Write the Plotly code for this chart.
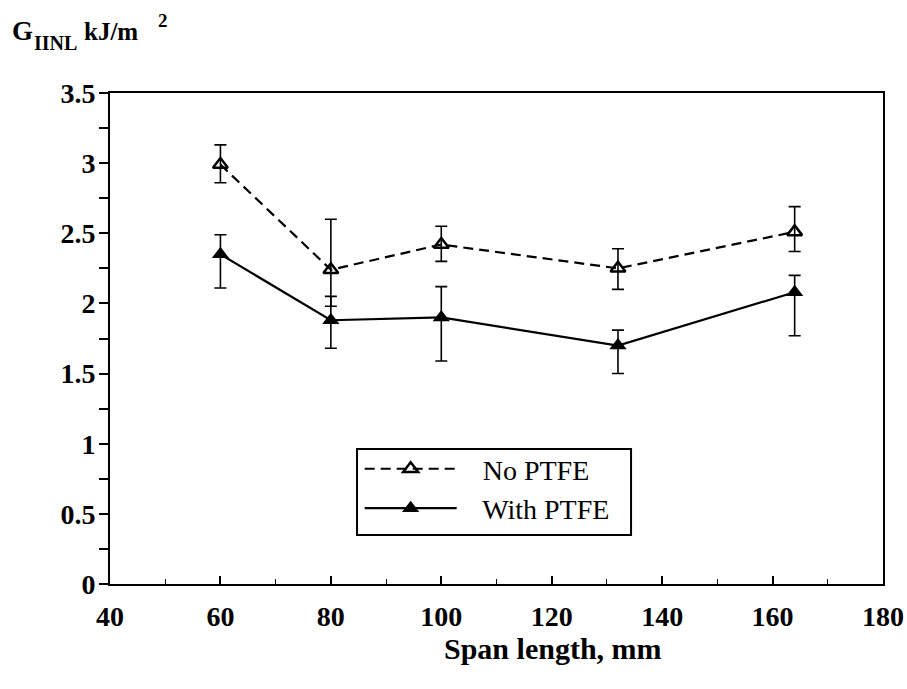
import plotly.graph_objects as go

span = [60, 80, 100, 132, 164]
no_ptfe = [2.99, 2.24, 2.42, 2.25, 2.51]
no_ptfe_hi = [3.13, 2.60, 2.55, 2.39, 2.69]
no_ptfe_lo = [2.86, 1.98, 2.30, 2.10, 2.37]
with_ptfe = [2.35, 1.88, 1.90, 1.70, 2.08]
with_ptfe_hi = [2.49, 2.05, 2.12, 1.81, 2.20]
with_ptfe_lo = [2.11, 1.68, 1.59, 1.50, 1.77]

font = "Liberation Serif, Times New Roman, serif"

def err(v, hi, lo):
    return dict(type="data", symmetric=False,
                array=[h - a for a, h in zip(v, hi)],
                arrayminus=[a - l for a, l in zip(v, lo)],
                color="black", thickness=1.6, width=6)

fig = go.Figure()
fig.add_trace(go.Scatter(
    x=span, y=no_ptfe, name="   No PTFE", mode="lines+markers",
    line=dict(color="black", width=2.2, dash="10px,6px"),
    marker=dict(symbol="triangle-up-open", size=13, color="black", line=dict(width=2.5)),
    error_y=err(no_ptfe, no_ptfe_hi, no_ptfe_lo)))
fig.add_trace(go.Scatter(
    x=span, y=with_ptfe, name="   With PTFE", mode="lines+markers",
    line=dict(color="black", width=2.2),
    marker=dict(symbol="triangle-up", size=15, color="black"),
    error_y=err(with_ptfe, with_ptfe_hi, with_ptfe_lo)))

tickfont = dict(family=font, size=28, color="black", weight="bold")
common = dict(showline=True, linecolor="black", linewidth=2, mirror=True,
              showgrid=False, zeroline=False, automargin=False, tickfont=tickfont,
              tickcolor="black")

fig.update_xaxes(range=[40, 180], dtick=20, tick0=40, ticks="inside", ticklen=8, tickwidth=1.5,
                 minor=dict(ticks="inside", ticklen=5, dtick=10, tickcolor="black", tickwidth=1.2),
                 ticklabelstandoff=6, **common)
fig.update_yaxes(range=[0, 3.5], dtick=0.5, tick0=0, ticks="outside", ticklen=9, tickwidth=1.5,
                 minor=dict(ticks="outside", ticklen=9, dtick=0.25, tickcolor="black", tickwidth=1.5),
                 ticklabelstandoff=-2, **common)

# y-axis title pieces (G, subscript IINL, kJ/m, superscript 2)
title_font = dict(family=font, color="black", weight="bold")
for txt, xs, ys, sz in [("G", -100, 62, 27), ("IINL", -78, 50, 20),
                        ("kJ/m", -28, 62, 25), ("2", 46, 73, 19)]:
    fig.add_annotation(xref="paper", yref="paper", x=0, y=1, xanchor="left", yanchor="middle",
                       xshift=xs, yshift=ys, text=txt, showarrow=False,
                       font=dict(size=sz, **title_font))

fig.add_annotation(xref="paper", yref="paper", x=0.573, y=-0.132, xanchor="center", yanchor="middle",
                   text="Span length, mm", showarrow=False,
                   font=dict(family=font, size=30, color="black", weight="bold"))

# legend frame
fig.add_shape(type="rect", xref="x", yref="y", x0=40 + (357 - 110) / 5.521, x1=40 + (631 - 110) / 5.521,
              y0=(584 - 535) / 140.3, y1=(584 - 449) / 140.3,
              line=dict(color="black", width=2), fillcolor="rgba(0,0,0,0)", layer="above")

fig.update_layout(
    width=907, height=689,
    margin=dict(l=110, r=24, t=93, b=105),
    plot_bgcolor="white", paper_bgcolor="white",
    showlegend=True,
    legend=dict(x=0.323, y=0.285, xanchor="left", yanchor="top",
                borderwidth=0, bgcolor="rgba(0,0,0,0)",
                font=dict(family=font, size=28, color="black"),
                itemwidth=92, tracegroupgap=0),
)

fig.write_html("out.html", post_script="document.body.style.margin='0';",
               config={"displayModeBar": False})
